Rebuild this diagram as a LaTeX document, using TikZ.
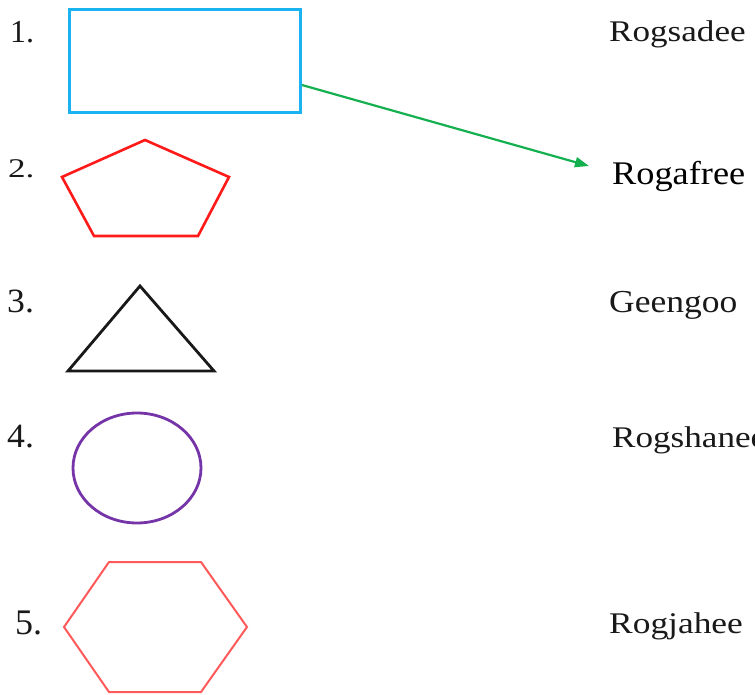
\documentclass[tikz,border=0pt]{standalone}
\usepackage{fontspec}
\setmainfont{Liberation Serif}
\usetikzlibrary{arrows.meta,calc}
\definecolor{rectblue}{HTML}{1AB2F0}
\definecolor{pentred}{HTML}{FF1A1A}
\definecolor{ellpurple}{HTML}{7535A8}
\definecolor{hexred}{HTML}{FF5A5A}
\definecolor{arrgreen}{HTML}{14B050}
\tikzset{
  lbl/.style={anchor=base west, inner sep=0pt, text=black!90},
  rectbox/.style={draw=rectblue, line width=2.8pt, minimum width=231pt, minimum height=103pt, inner sep=0pt},
  pentline/.style={draw=pentred, line width=2.6pt, line join=miter},
  triline/.style={draw=black!90, line width=2.8pt, line join=miter},
  ellline/.style={draw=ellpurple, line width=2.8pt},
  hexline/.style={draw=hexred, line width=2pt, line join=miter},
  arrline/.style={draw=arrgreen, line width=2.2pt, -{Triangle[length=14pt,width=10pt]}}
}
\begin{document}
\begin{tikzpicture}[x=1pt,y=-1pt]
\useasboundingbox (0,0) rectangle (755,695);
\fill[white] (0,0) rectangle (755,695);
% number labels
\node[lbl, font=\fontsize{32}{32}\selectfont] (n1) at (10,43) {\scalebox{1.0}[1]{1.}};
\node[lbl, font=\fontsize{27}{27}\selectfont] (n2) at (8,178) {\scalebox{1.3}[1]{2.}};
\node[lbl, font=\fontsize{34}{34}\selectfont] (n3) at (7,312) {\scalebox{1.05}[1]{3.}};
\node[lbl, font=\fontsize{34}{34}\selectfont] (n4) at (7,447) {\scalebox{1.05}[1]{4.}};
\node[lbl, font=\fontsize{36}{36}\selectfont] (n5) at (15,634) {\scalebox{1.0}[1]{5.}};
% word labels
\node[lbl, font=\fontsize{30}{30}\selectfont] (w1) at (609,42) {\scalebox{1.17}[1]{Rogsadee}};
\node[lbl, font=\fontsize{33}{33}\selectfont, text=black] (w2) at (612,185) {\scalebox{1.10}[1]{Rogafree}};
\node[lbl, font=\fontsize{32}{32}\selectfont] (w3) at (609,312) {\scalebox{1.11}[1]{Geengoo}};
\node[lbl, font=\fontsize{30}{30}\selectfont] (w4) at (612,447) {\scalebox{1.17}[1]{Rogshanee}};
\node[lbl, font=\fontsize{30}{30}\selectfont] (w5) at (609,633) {\scalebox{1.18}[1]{Rogjahee}};
% shapes
\node[rectbox] (rect) at (185,61) {};
\draw[pentline] (62,177) -- (145,140) -- (229,177) -- (198,236) -- (94,236) -- cycle;
\draw[triline] (140,286) -- (214,371) -- (68,371) -- cycle;
\draw[ellline] (137,468) ellipse [x radius=64, y radius=55];
\draw[hexline] (109,562) -- (201,562) -- (247,627) -- (201,692) -- (109,692) -- (64,627) -- cycle;
% arrow
\coordinate (tip) at (589,166);
\draw[arrline] ($(rect.east)+(0,24)$) -- (tip);
\end{tikzpicture}
\end{document}
